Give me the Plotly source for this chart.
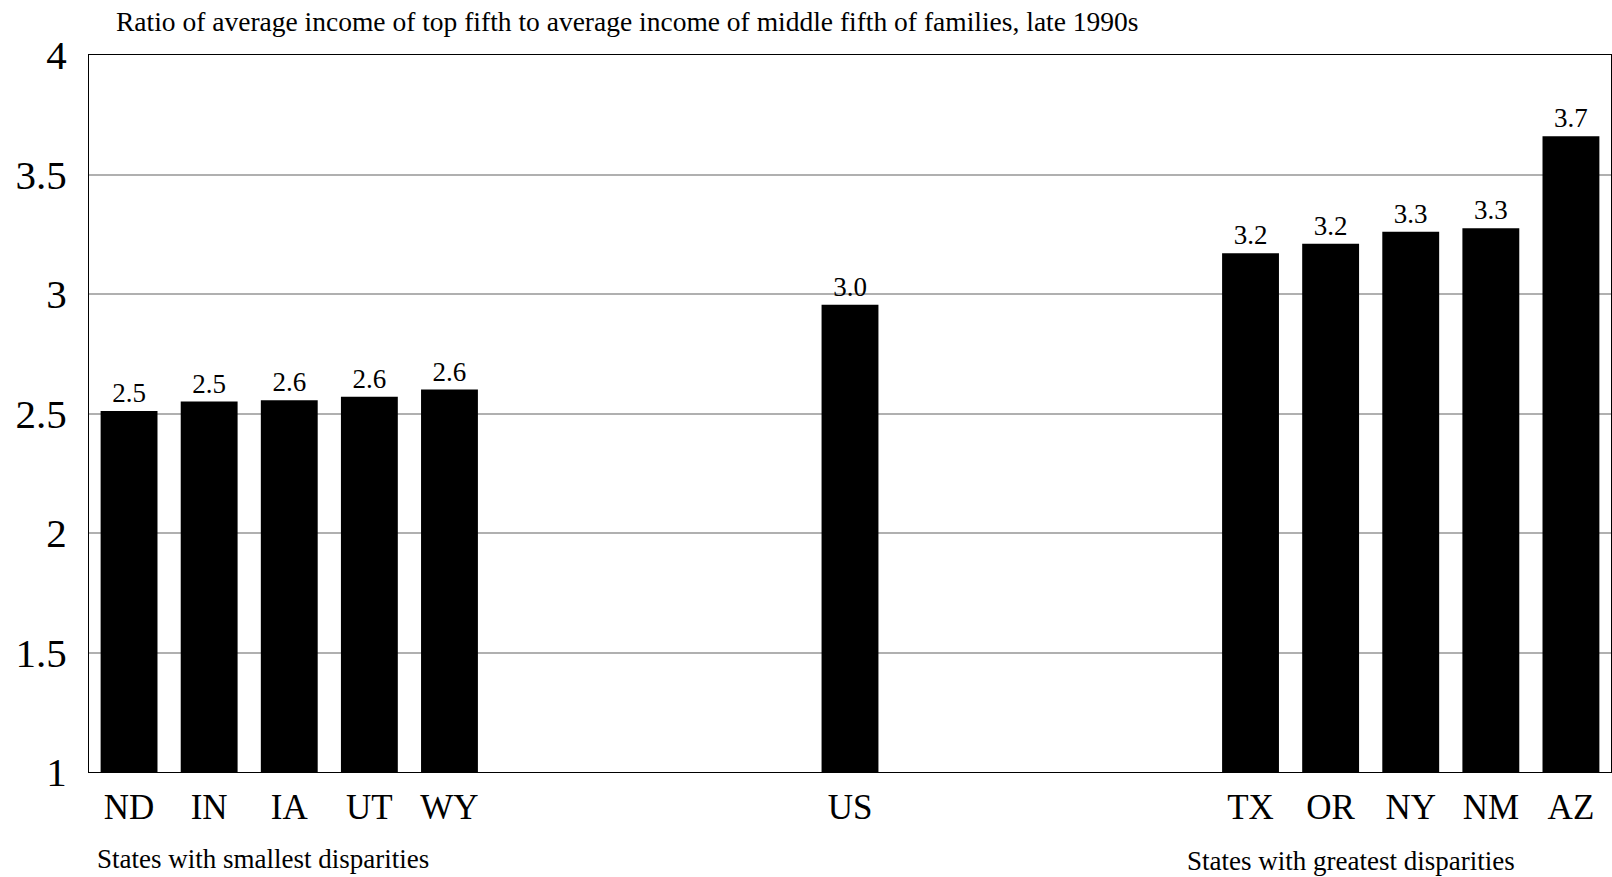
import plotly.graph_objects as go

states = ["ND", "IN", "IA", "UT", "WY", "US", "TX", "OR", "NY", "NM", "AZ"]
ratios = [2.51, 2.55, 2.555, 2.57, 2.60, 2.955, 3.17, 3.21, 3.26, 3.275, 3.66]

# full category order, including blank spacer slots between groups
category_order = ["ND", "IN", "IA", "UT", "WY",
                  " ", "  ", "   ", "    ",
                  "US",
                  "     ", "      ", "       ", "        ",
                  "TX", "OR", "NY", "NM", "AZ"]

title_text = "Ratio of average income of top fifth to average income of middle fifth of families, late 1990s"
left_note = "States with smallest disparities"
right_note = "States with greatest disparities"

FONT = "Liberation Serif"

fig = go.Figure(go.Bar(
    x=states,
    y=ratios,
    marker=dict(color="black", line=dict(width=0)),
    texttemplate="%{y:.1f}",
    textposition="outside",
    textfont=dict(family=FONT, size=27, color="black"),
    cliponaxis=False,
    showlegend=False,
))

fig.update_layout(
    width=1612, height=877,
    margin=dict(l=89, r=1, t=55, b=105),
    paper_bgcolor="white", plot_bgcolor="white",
    bargap=0.29,
    font=dict(family=FONT, color="black"),
    xaxis=dict(
        type="category", categoryorder="array", categoryarray=category_order,
        range=[-0.5, len(category_order) - 0.5],
        showline=True, mirror=True, linecolor="black", linewidth=1,
        showgrid=False, ticks="", tickfont=dict(size=35, family=FONT, color="black"),
        ticklabelstandoff=4,
    ),
    yaxis=dict(
        range=[1, 4], dtick=0.5, tick0=1,
        showline=True, mirror=True, linecolor="black", linewidth=1,
        showgrid=True, gridcolor="#b0b0b0", gridwidth=1.5, zeroline=False,
        ticks="", tickfont=dict(size=41, family=FONT, color="black"),
        ticklabelstandoff=13,
    ),
    annotations=[
        dict(text=title_text, xref="paper", yref="paper", x=0.0164, y=1.047,
             xanchor="left", yanchor="middle", showarrow=False,
             font=dict(size=27.5, family=FONT, color="black")),
        dict(text=left_note, xref="paper", yref="paper", x=0.004, y=-0.121,
             xanchor="left", yanchor="middle", showarrow=False,
             font=dict(size=27, family=FONT, color="black")),
        dict(text=right_note, xref="paper", yref="paper", x=0.720, y=-0.124,
             xanchor="left", yanchor="middle", showarrow=False,
             font=dict(size=27, family=FONT, color="black")),
    ],
)

fig.write_html(
    "out.html",
    config={"displayModeBar": False},
    post_script="document.body.style.margin='0';document.body.style.overflow='hidden';",
)
